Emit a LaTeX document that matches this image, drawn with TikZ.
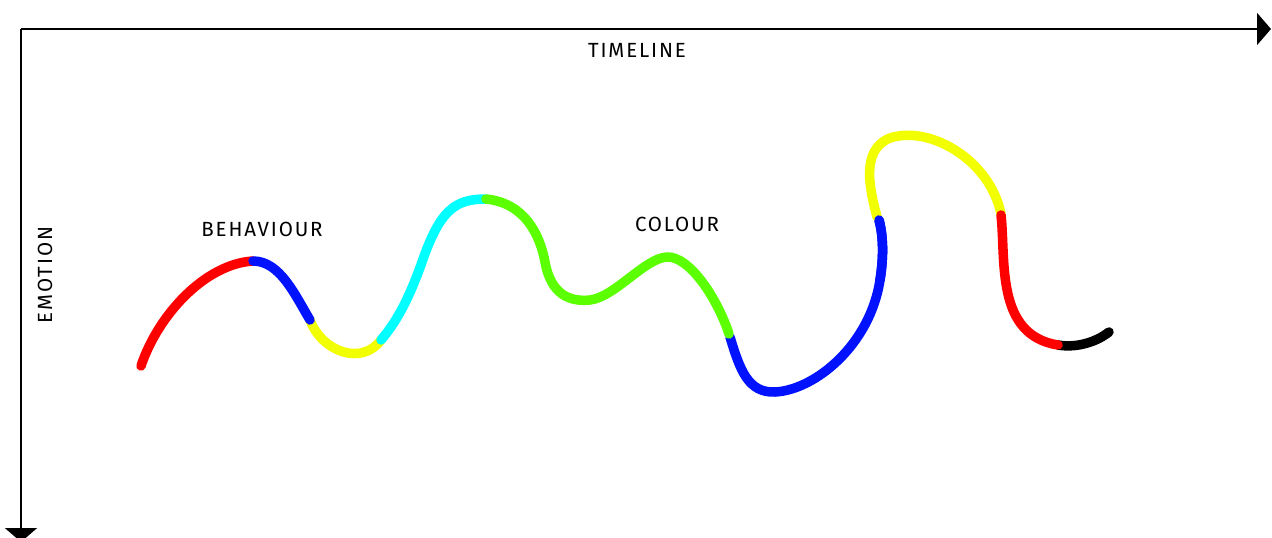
\documentclass[tikz,border=0pt]{standalone}
\usepackage{fontspec}
\setmainfont{Fira Sans}[LetterSpace=9]
\usetikzlibrary{arrows.meta}
\definecolor{cRed}{HTML}{FF0000}
\definecolor{cBlue}{HTML}{0012FF}
\definecolor{cYellow}{HTML}{F2FF00}
\definecolor{cCyan}{HTML}{00FFFF}
\definecolor{cGreen}{HTML}{5CFF00}
\tikzset{
  axis/.style={line width=2pt, black, -{Triangle[length=14pt,width=32pt]}},
  seg/.style={line width=9.5pt, line cap=round},
  lbl/.style={font=\fontsize{20.5}{24}\selectfont, inner sep=0pt}
}
\begin{document}
\begin{tikzpicture}[x=1pt,y=-1pt]
\useasboundingbox[fill=white] (0,0) rectangle (1272,538);
% axes
\coordinate (O) at (21,29);
\coordinate (X) at (1271,29);
\coordinate (Y) at (21,542);
\draw[axis] (O) -- (X);
\draw[axis] (O) -- (Y);
% labels
\node[lbl] (timeline) at (637,50) {TIMELINE};
\node[lbl] (behaviour) at (262,229) {BEHAVIOUR};
\node[lbl] (colour) at (677,224) {COLOUR};
\node[lbl, rotate=90] (emotion) at (45,275) {EMOTION};
% curve segments
\draw[seg, cRed] (141,366) .. controls (158,315) and (205,264) .. (253,261);
\draw[seg, cYellow] (310,320) .. controls (322,352) and (362,366) .. (381,340);
\draw[seg, cBlue] (253,261) .. controls (280,261) and (295,295) .. (310,320);
\draw[seg, cCyan] (381,340) .. controls (400,318) and (412,290) .. (422,262)
  .. controls (440,210) and (455,199) .. (486,199);
\draw[seg, cBlue] (730,337) .. controls (740,370) and (748,393) .. (775,392)
  .. controls (815,390) and (870,345) .. (880,280)
  .. controls (884,255) and (883,235) .. (879,220);
\draw[seg, cGreen] (486,199) .. controls (525,203) and (540,235) .. (545,262)
  .. controls (551,295) and (570,302) .. (590,300)
  .. controls (615,297) and (645,258) .. (667,257)
  .. controls (690,256) and (718,300) .. (729,334);
\draw[seg, cYellow] (1001,214) .. controls (990,160) and (930,125) .. (890,138)
  .. controls (860,150) and (870,190) .. (877,217);
\draw[seg, cBlue] (880,280) .. controls (884,255) and (883,235) .. (879,220);
\draw[seg, black] (1058,345) .. controls (1075,348) and (1095,343) .. (1109,332);
\draw[seg, cRed] (1001,215) .. controls (1006,260) and (995,335) .. (1058,345);
\end{tikzpicture}
\end{document}
